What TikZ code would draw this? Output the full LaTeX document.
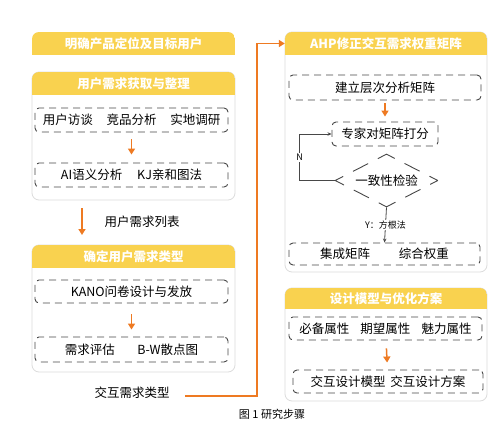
\documentclass[tikz,border=0pt]{standalone}
\usepackage{fontspec}
\setmainfont{Noto Sans CJK SC}
\usetikzlibrary{arrows.meta,shapes.geometric}

\definecolor{headyellow}{HTML}{F9D24F}
\definecolor{flowarrow}{HTML}{EE7A22}
\definecolor{panelgray}{HTML}{DCDCDC}
\definecolor{dashgray}{HTML}{474747}

\tikzset{
  panel/.style={draw=panelgray, line width=0.8pt, rounded corners=7pt},
  headtext/.style={text=white, font=\bfseries\fontsize{12.5}{14}\selectfont, minimum height=23pt, inner sep=0pt},
  stepbox/.style={draw=dashgray, line width=0.9pt, dash pattern=on 7pt off 5pt, rounded corners=4pt, inner sep=0pt, font=\fontsize{12.5}{14}\selectfont},
  flow/.style={-{Triangle[width=7pt,length=6pt]}, draw=flowarrow, line width=1.5pt},
  check/.style={-{Stealth[length=4pt,width=3.5pt]}, draw=dashgray, line width=0.8pt},
  tag/.style={fill=white, inner sep=1pt, font=\fontsize{9}{10}\selectfont},
  plain/.style={font=\fontsize{12.5}{14}\selectfont}
}

\begin{document}
\begin{tikzpicture}[x=1pt, y=-1pt]
\useasboundingbox[fill=white] (0,0) rectangle (500,433);

% left column
\begin{scope}
  \clip[rounded corners=7pt] (32,32) rectangle (235,70);
  \fill[headyellow] (32,32) rectangle (235,55);
\end{scope}
\node[headtext, minimum width=203pt] (goalH) at (133.5,43.5) {明确产品定位及目标用户};

\draw[panel] (32,72) rectangle (235,200);
\begin{scope}
  \clip[rounded corners=7pt] (32,72) rectangle (235,200);
  \fill[headyellow] (32,72) rectangle (235,95);
\end{scope}
\node[headtext, minimum width=203pt] (getH) at (133.5,83.5) {用户需求获取与整理};
\node[stepbox, minimum width=193pt, minimum height=24pt] (interview) at (131.5,120) {用户访谈\hspace{1.1em}竞品分析\hspace{1.1em}实地调研};
\node[stepbox, minimum width=193pt, minimum height=24pt] (semantic) at (131.5,175) {AI语义分析\hspace{1.2em}KJ亲和图法};
\draw[flow, shorten <=7pt, shorten >=8pt] (interview) -- (semantic);

\coordinate (listtop) at (82,208);
\coordinate (listend) at (82,235);
\draw[flow] (listtop) -- (listend);
\node[plain] (needlist) at (142,222) {用户需求列表};

\draw[panel] (32,245) rectangle (235,372);
\begin{scope}
  \clip[rounded corners=7pt] (32,245) rectangle (235,372);
  \fill[headyellow] (32,245) rectangle (235,268);
\end{scope}
\node[headtext, minimum width=203pt] (typeH) at (133.5,256.5) {确定用户需求类型};
\node[stepbox, minimum width=193pt, minimum height=23pt] (kano) at (131.5,291.5) {KANO问卷设计与发放};
\node[stepbox, minimum width=193pt, minimum height=25pt] (assess) at (131.5,349.5) {需求评估\hspace{1.8em}B-W散点图};
\draw[flow, shorten <=11pt, shorten >=7pt] (kano) -- (assess);

\node[plain] (types) at (132,393) {交互需求类型};
\coordinate (bend) at (257,396);

% right column
\draw[panel] (285,32) rectangle (487,272);
\begin{scope}
  \clip[rounded corners=7pt] (285,32) rectangle (487,272);
  \fill[headyellow] (285,32) rectangle (487,55);
\end{scope}
\node[headtext, minimum width=202pt] (ahpH) at (386,43.5) {AHP修正交互需求权重矩阵};
\node[stepbox, minimum width=192pt, minimum height=25pt] (matrix) at (385,87.5) {建立层次分析矩阵};
\node[stepbox, minimum width=106pt, minimum height=24pt] (expert) at (385,134) {专家对矩阵打分};
\draw[flow, shorten <=3pt, shorten >=5pt] (matrix) -- (expert);
\node[diamond, draw=dashgray, line width=0.9pt, aspect=2, inner sep=0pt,
      minimum width=103pt, minimum height=53pt,
      dash pattern=on 18.9pt off 11pt on 17pt off 11pt, dash phase=9.45pt,
      font=\fontsize{12.5}{14}\selectfont] (consist) at (386.5,180.5) {一致性检验};
\node[stepbox, minimum width=191pt, minimum height=22pt] (integrate) at (384.5,254) {集成矩阵\hspace{2.3em}综合权重};
\draw[check] (consist.west) -- ++(-35,0) |- node[pos=0.25, tag] {N} (expert.west);
\draw[check] (consist.south) -- node[tag] {Y：方根法} (integrate.north);

\draw[panel] (285,288) rectangle (487,401);
\begin{scope}
  \clip[rounded corners=7pt] (285,288) rectangle (487,401);
  \fill[headyellow] (285,288) rectangle (487,309);
\end{scope}
\node[headtext, minimum width=202pt, minimum height=21pt] (designH) at (386,298.5) {设计模型与优化方案};
\node[stepbox, minimum width=193pt, minimum height=23pt] (attrs) at (385.5,328.5) {必备属性\hspace{0.9em}期望属性\hspace{0.9em}魅力属性};
\node[stepbox, minimum width=190pt, minimum height=23pt] (model) at (388,381.5) {交互设计模型\hspace{0.4em}交互设计方案};
\draw[flow, shorten <=8pt, shorten >=7pt] (attrs) -- (model);

\draw[flow] ([xshift=12pt,yshift=-3pt]types.east) -- (bend) |- (ahpH.west);

\node[font=\fontsize{11}{12}\selectfont] (caption) at (272,414) {图 1 研究步骤};
\end{tikzpicture}
\end{document}
